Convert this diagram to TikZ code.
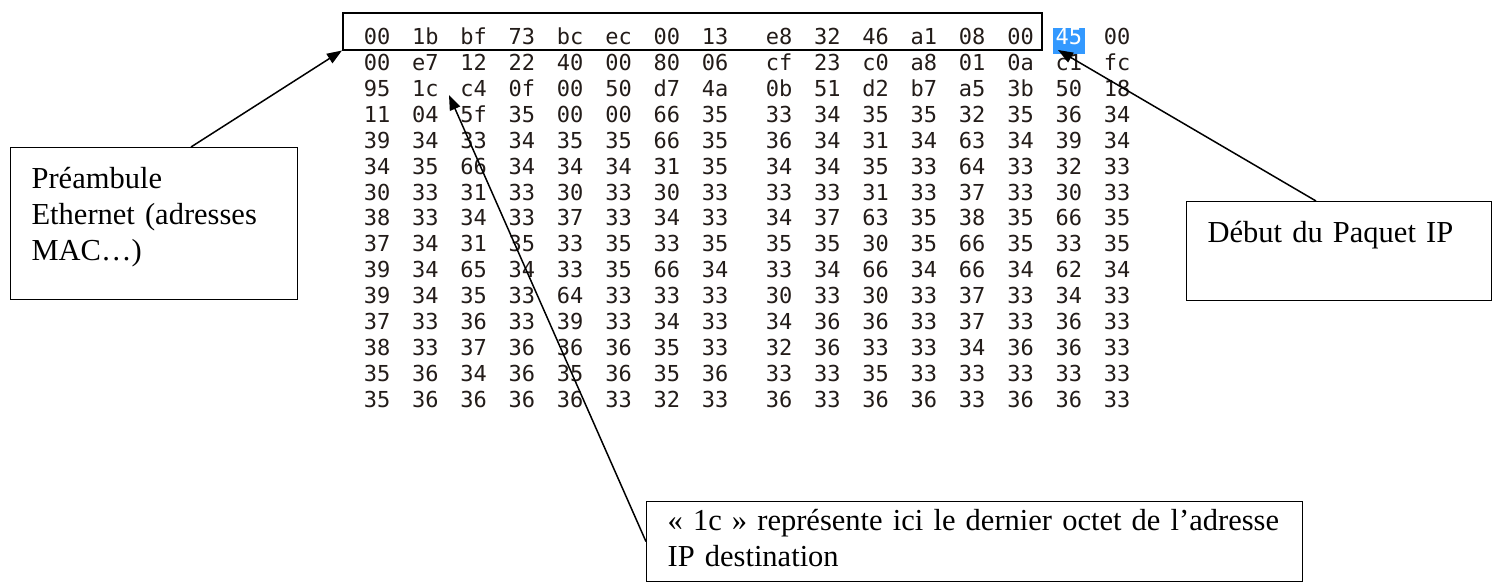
\documentclass[tikz,border=0pt]{standalone}
\usepackage{fontspec}
\setmainfont{Liberation Serif}
\newfontfamily\hexfont{DejaVu Sans Mono}
\usetikzlibrary{arrows.meta}
\definecolor{selblue}{RGB}{51,153,255}
\definecolor{hexink}{RGB}{35,28,25}

\begin{document}
\begin{tikzpicture}[x=1pt, y=-1pt, font=\fontsize{30.5pt}{36pt}\selectfont]
    \def\cw{48.3}
    \def\ch{25.9}
    \def\gap{15.6}

    \tikzset{
        hexcell/.style={
            inner sep=0pt,
            outer sep=0pt,
            text height=0.73em,
            text depth=0pt,
            text=hexink,
            font=\hexfont\fontsize{22pt}{22pt}\selectfont
        },
        selcell/.style={fill=selblue, text=white, minimum width=32pt, minimum height=26pt},
        note/.style={draw, line width=1.2pt, anchor=north west, align=left,
            inner xsep=21pt, inner ysep=0pt, text height=41pt},
        pointer/.style={line width=1.5pt, -{Triangle[length=15pt,width=11pt]}}
    }

    \useasboundingbox (0,0) rectangle (1493,582);

    % hex dump
    \foreach \row [count=\r from 0] in {
        {00,1b,bf,73,bc,ec,00,13,e8,32,46,a1,08,00,45,00},
        {00,e7,12,22,40,00,80,06,cf,23,c0,a8,01,0a,c1,fc},
        {95,1c,c4,0f,00,50,d7,4a,0b,51,d2,b7,a5,3b,50,18},
        {11,04,5f,35,00,00,66,35,33,34,35,35,32,35,36,34},
        {39,34,33,34,35,35,66,35,36,34,31,34,63,34,39,34},
        {34,35,66,34,34,34,31,35,34,34,35,33,64,33,32,33},
        {30,33,31,33,30,33,30,33,33,33,31,33,37,33,30,33},
        {38,33,34,33,37,33,34,33,34,37,63,35,38,35,66,35},
        {37,34,31,35,33,35,33,35,35,35,30,35,66,35,33,35},
        {39,34,65,34,33,35,66,34,33,34,66,34,66,34,62,34},
        {39,34,35,33,64,33,33,33,30,33,30,33,37,33,34,33},
        {37,33,36,33,39,33,34,33,34,36,36,33,37,33,36,33},
        {38,33,37,36,36,36,35,33,32,36,33,33,34,36,36,33},
        {35,36,34,36,35,36,35,36,33,33,35,33,33,33,33,33},
        {35,36,36,36,36,33,32,33,36,33,36,36,33,36,36,33}}{
        \foreach \b [count=\i from 0] in \row {
            \pgfmathsetmacro\hx{377+\i*\cw+(\i>7)*\gap}
            \ifnum\numexpr\r*16+\i\relax=14
                \tikzset{pick/.style={selcell}}
            \else
                \tikzset{pick/.style={}}
            \fi
            \node[hexcell, pick] (b\r-\i) at (\hx, 41+\r*\ch) {\b};
        }
    }

    % Ethernet header frame
    \node[draw, line width=1.5pt, inner sep=0pt, minimum width=699pt,
        minimum height=37pt, anchor=north west] (eth) at (342,12) {};

    % notes
    \node[note, text width=245pt, text depth=111pt] (pre) at (10,147)
        {Préambule\\Ethernet (adresses\\MAC…)};
    \node[note, text width=263pt, text depth=58pt] (ip) at (1186,201)
        {Début du Paquet IP};
    \node[note, text width=614pt, text height=29pt, text depth=51pt] (dst) at (646,501)
        {« 1c » représente ici le dernier octet de l’adresse\\IP destination};

    \coordinate (iptip) at (1058,50);
    \coordinate (dsttip) at (449,95);

    \draw[pointer] ([xshift=181pt]pre.north west) -- (eth.south west);
    \draw[pointer] ([xshift=130pt]ip.north west) -- (iptip);
    \draw[pointer] (dst.west) -- (dsttip);
\end{tikzpicture}
\end{document}
